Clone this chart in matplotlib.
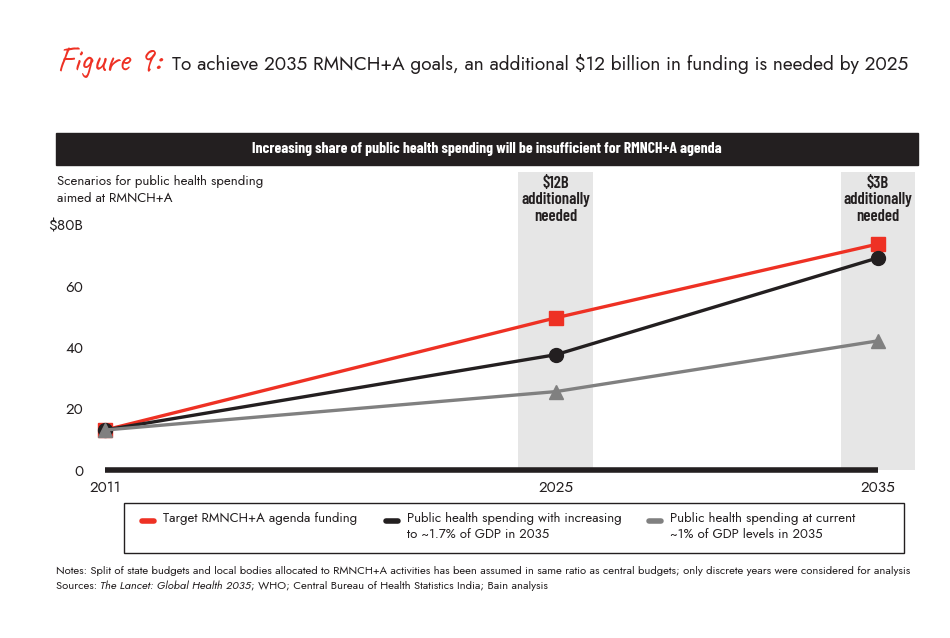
import matplotlib
matplotlib.use("Agg")
import matplotlib.pyplot as plt
from matplotlib.patches import Rectangle
from matplotlib.lines import Line2D

plt.rcParams['font.family'] = ['Jost', 'DejaVu Sans']
BOLD_FAMILY = ['Barlow Condensed', 'Jost', 'DejaVu Sans']

# data
years = [2011, 2025, 2035]
target_funding = [13, 49.5, 73.5]
spending_increasing = [13, 37.5, 69]
spending_current = [13, 25.5, 42]
gap_years = [2025, 2035]
gap_labels = ["$12B\nadditionally\nneeded", "$3B\nadditionally\nneeded"]
y_ticks = [0, 20, 40, 60, 80]
y_tick_labels = ["0", "20", "40", "60", "$80B"]
series_names = [
    "Target RMNCH+A agenda funding",
    "Public health spending with increasing\nto ~1.7% of GDP in 2035",
    "Public health spending at current\n~1% of GDP levels in 2035",
]

RED = "#ee3124"
BLACK = "#231f20"
GREY = "#808080"
BAND = "#e6e6e6"

W, H = 950, 638


def fx(x):
    return x / W


def fy(y):
    return 1 - y / H


fig = plt.figure(figsize=(9.5, 6.38), dpi=100)
renderer = fig.canvas.get_renderer()


def fit(txt, width_px):
    # scale the font so the text spans the width seen in the reference
    w = txt.get_window_extent(renderer).width
    txt.set_fontsize(txt.get_fontsize() * width_px / w)
    return txt


# title
fit(fig.text(fx(57), fy(63), "Figure 9:", color=RED, fontsize=20,
             family=["Caveat", "DejaVu Serif"], va="center", ha="left"), 104)
fit(fig.text(fx(172), fy(64), "To achieve 2035 RMNCH+A goals, an additional $12 billion in funding is needed by 2025",
             color=BLACK, fontsize=14, va="center", ha="left"), 737)

# banner
fig.patches.append(Rectangle((fx(56), fy(165)), fx(918) - fx(56), fy(133) - fy(165),
                             transform=fig.transFigure, color=BLACK, zorder=0))
fit(fig.text(fx(487), fy(149), "Increasing share of public health spending will be insufficient for RMNCH+A agenda",
             color="white", fontsize=10, fontweight="bold", family=BOLD_FAMILY,
             ha="center", va="center"), 468)

fit(fig.text(fx(57), fy(190), "Scenarios for public health spending\naimed at RMNCH+A",
             fontsize=10, color=BLACK, ha="left", va="center", linespacing=1.35), 205)

# axes
ax = fig.add_axes([fx(104), fy(470), fx(915) - fx(104), fy(172) - fy(470)])
ppy = (878 - 105) / (years[-1] - years[0])
ax.set_xlim(years[0] - 1 / ppy, years[-1] + (915 - 878) / ppy)
ax.set_ylim(0, (470 - 172) / 3.075)
for s in ax.spines.values():
    s.set_visible(False)

half_band = 37.5 / ppy
for gy, gl in zip(gap_years, gap_labels):
    ax.axvspan(gy - half_band, gy + half_band, color=BAND, lw=0, zorder=0)
    ax.text(gy, ax.get_ylim()[1] - 1.2, gl, ha="center", va="top", fontsize=12,
            fontweight="semibold", family=BOLD_FAMILY, color=BLACK, linespacing=1.15)

ax.plot([years[0], years[-1]], [0, 0], color=BLACK, lw=4, solid_capstyle="butt",
        clip_on=False, zorder=5)

l_red, = ax.plot(years, target_funding, color=RED, lw=2.4, marker="s", ms=10.5, zorder=3,
                 clip_on=False)
l_blk, = ax.plot(years, spending_increasing, color=BLACK, lw=2.4, marker="o", ms=10, zorder=3,
                 clip_on=False)
l_gry, = ax.plot(years, spending_current, color=GREY, lw=2.4, marker="^", ms=10, zorder=3,
                 clip_on=False)

ax.set_xticks(years)
ax.set_xticklabels([str(y) for y in years])
ax.set_yticks(y_ticks)
ax.set_yticklabels(y_tick_labels)
ax.tick_params(length=0, labelsize=11, colors=BLACK)
ax.tick_params(axis="x", pad=7)
ax.tick_params(axis="y", pad=15)

# legend box
fig.patches.append(Rectangle((fx(124), fy(553)), fx(904) - fx(124), fy(503) - fy(553),
                             transform=fig.transFigure, fill=False, edgecolor=BLACK, lw=1))
legend_x = [140, 384, 647]
legend_w = [194, 214, 184]
for line, name, x0, tw in zip([l_red, l_blk, l_gry], series_names, legend_x, legend_w):
    fig.lines.append(Line2D([fx(x0 + 2), fx(x0 + 14)], [fy(521), fy(521)], transform=fig.transFigure,
                            color=line.get_color(), lw=4, solid_capstyle="round"))
    fit(fig.text(fx(x0 + 23), fy(512), name, fontsize=10, color=BLACK, ha="left", va="top",
                 linespacing=1.3), tw)

# notes
notes = fit(fig.text(fx(56), fy(571), "Notes: Split of state budgets and local bodies allocated to RMNCH+A activities "
                     "has been assumed in same ratio as central budgets; only discrete years were considered for analysis",
                     fontsize=8, color=BLACK, ha="left", va="center"), 856)
xs = fx(56)
for txt, st in [("Sources: ", "normal"), ("The Lancet: Global Health 2035", "italic"),
                ("; WHO; Central Bureau of Health Statistics India; Bain analysis", "normal")]:
    tt = fig.text(xs, fy(586), txt, fontsize=notes.get_fontsize(), color=BLACK, ha="left",
                  va="center", style=st)
    bb = tt.get_window_extent(renderer)
    xs = fig.transFigure.inverted().transform((bb.x1, 0))[0]

fig.savefig("out.png", dpi=100)
